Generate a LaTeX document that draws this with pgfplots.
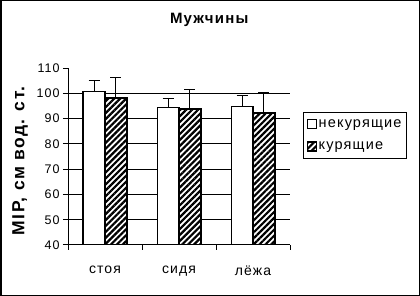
\documentclass[border=0pt]{standalone}
\usepackage{fontspec}
\setmainfont{Liberation Sans}[LetterSpace=8]
\usepackage{pgfplots}
\pgfplotsset{compat=1.18}
\usetikzlibrary{patterns.meta}
\begin{document}
\begin{tikzpicture}
\useasboundingbox (0,0) rectangle (420bp,296bp);
\draw[line width=1.5bp] (0.75bp,0.75bp) rectangle (419.25bp,295.25bp);
\begin{axis}[
  at={(68bp,51bp)}, anchor=south west,
  scale only axis, width=222bp, height=177bp,
  xmin=-0.5, xmax=2.5, ymin=40, ymax=110,
  ybar=0pt, bar width=21.7bp,
  axis x line*=bottom, axis y line*=left,
  axis line style={line width=1bp, black},
  xtick={-0.5,0.5,1.5,2.5}, xticklabels={,,,},
  extra x ticks={0,1,2}, extra x tick labels={стоя,сидя,лёжа},
  extra x tick style={major tick length=0pt},
  ytick={40,50,...,110},
  extra y ticks={50,60,...,100}, extra y tick labels={},
  extra y tick style={grid=major, major tick length=0pt},
  major grid style={black, line width=1bp},
  tick align=outside, major tick length=5bp,
  tick style={black, line width=1bp},
  /pgf/number format/assume math mode=true,
  yticklabel style={font=\fontsize{12.5bp}{15bp}\selectfont},
  xticklabel style={font=\fontsize{14bp}{16bp}\selectfont, yshift=-17bp},
  title={Мужчины},
  title style={at={(0.636,1.237)}, anchor=center, yshift=0pt, font=\fontsize{15bp}{18bp}\selectfont\bfseries},
  ylabel={MIP, см вод. ст.},
  ylabel style={at={(-0.216,0.475)}, anchor=center, font=\fontsize{17.5bp}{21bp}\selectfont\bfseries},
  legend image code/.code={\draw[#1, line width=1.2bp] (0bp,-4.5bp) rectangle (9bp,4.5bp);},
  legend style={at={(1.0586,0.7514)}, anchor=north west, draw=black, line width=1bp,
    font=\fontsize{14.5bp}{16bp}\selectfont, inner xsep=3bp, inner ysep=5bp, row sep=9bp},
  legend cell align=left,
]
\addplot[fill=white, draw=black, line width=1.6bp,
  error bars/.cd, y dir=plus, y explicit,
  error bar style={line width=1.2bp, black},
  error mark options={rotate=90, mark size=5.5bp, line width=1.2bp, black}]
  coordinates {(0,100.7) +- (0,4.3) (1,94.4) +- (0,3.6) (2,94.8) +- (0,4.4)};
\addlegendentry{некурящие}
\addplot[fill=white, draw=black, line width=1.6bp,
  postaction={pattern={Lines[angle=45,distance=4.2bp,line width=2.2bp]}},
  error bars/.cd, y dir=plus, y explicit,
  error bar style={line width=1.2bp, black},
  error mark options={rotate=90, mark size=5.5bp, line width=1.2bp, black}]
  coordinates {(0,98.1) +- (0,8.2) (1,93.8) +- (0,7.7) (2,92.2) +- (0,8.1)};
\addlegendentry{курящие}
\end{axis}
\end{tikzpicture}
\end{document}
